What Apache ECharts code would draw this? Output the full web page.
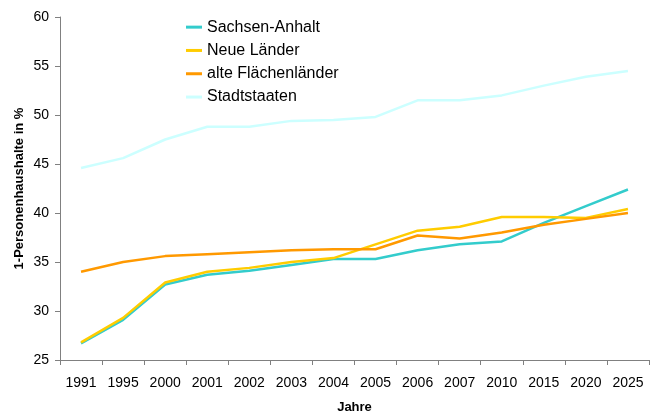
<!DOCTYPE html>
<html>
<head>
<meta charset="utf-8">
<script src="https://cdn.jsdelivr.net/npm/echarts@6/dist/echarts.min.js"></script>
<style>
  html, body { margin: 0; padding: 0; background: #fff; }
  #main { width: 652px; height: 412px; }
</style>
</head>
<body>
<div id="main"></div>
<script>
// Jahre
const years = ['1991', '1995', '2000', '2001', '2002', '2003', '2004', '2005', '2006', '2007', '2010', '2015', '2020', '2025'];

// Anteil 1-Personenhaushalte in %
const sachsenAnhalt = [26.7, 29.1, 32.7, 33.7, 34.1, 34.7, 35.3, 35.3, 36.2, 36.8, 37.1, 39.0, 40.7, 42.4];
const neueLaender = [26.8, 29.3, 32.9, 34.0, 34.4, 35.0, 35.4, 36.8, 38.2, 38.6, 39.6, 39.6, 39.5, 40.4];
const alteFlaechenlaender = [34.0, 35.0, 35.6, 35.8, 36.0, 36.2, 36.3, 36.3, 37.7, 37.4, 38.0, 38.8, 39.4, 40.0];
const stadtstaaten = [44.6, 45.6, 47.5, 48.8, 48.8, 49.4, 49.5, 49.8, 51.5, 51.5, 52.0, 53.0, 53.9, 54.5];

const font = 'Liberation Sans, Arial, sans-serif';

const chart = echarts.init(document.getElementById('main'));

function line(name, data, color) {
  return {
    name,
    type: 'line',
    data,
    symbol: 'none',
    lineStyle: { color, width: 2.5 },
    itemStyle: { color },
    z: 3
  };
}

const option = {
  animation: false,
  backgroundColor: '#fff',
  grid: { left: 60, right: 3, top: 17, bottom: 52, outerBoundsMode: 'none' },
  legend: {
    orient: 'vertical',
    left: 181,
    top: 13,
    icon: 'rect',
    itemWidth: 16,
    itemHeight: 3,
    itemGap: 5,
    itemStyle: { borderWidth: 0 },
    textStyle: { fontFamily: font, fontSize: 16, color: '#000', lineHeight: 18.3 },
    data: ['Sachsen-Anhalt', 'Neue Länder', 'alte Flächenländer', 'Stadtstaaten']
  },
  xAxis: {
    type: 'category',
    data: years,
    boundaryGap: true,
    name: 'Jahre',
    nameLocation: 'middle',
    nameGap: 41,
    nameTextStyle: { fontFamily: font, fontSize: 13, fontWeight: 'bold', color: '#000' },
    axisLine: { lineStyle: { color: '#808080', width: 1 } },
    axisTick: { show: true, length: 5, lineStyle: { color: '#808080' } },
    axisLabel: { fontFamily: font, fontSize: 14, color: '#000', margin: 16, interval: 0 },
    splitLine: { show: false }
  },
  yAxis: {
    type: 'value',
    min: 25,
    max: 60,
    interval: 5,
    name: '1-Personenhaushalte in %',
    nameLocation: 'middle',
    nameGap: 34,
    nameMoveOverlap: false,
    nameRotate: 90,
    nameTextStyle: { fontFamily: font, fontSize: 13, fontWeight: 'bold', color: '#000' },
    axisLine: { show: true, lineStyle: { color: '#808080', width: 1 } },
    axisTick: { show: true, length: 5, lineStyle: { color: '#808080' } },
    axisLabel: { fontFamily: font, fontSize: 14, color: '#000', margin: 11 },
    splitLine: { show: false }
  },
  series: [
    line('Sachsen-Anhalt', sachsenAnhalt, '#33CCCC'),
    line('Neue Länder', neueLaender, '#FFCC00'),
    line('alte Flächenländer', alteFlaechenlaender, '#FF9900'),
    line('Stadtstaaten', stadtstaaten, '#CCFFFF')
  ]
};

chart.setOption(option);
</script>
</body>
</html>
